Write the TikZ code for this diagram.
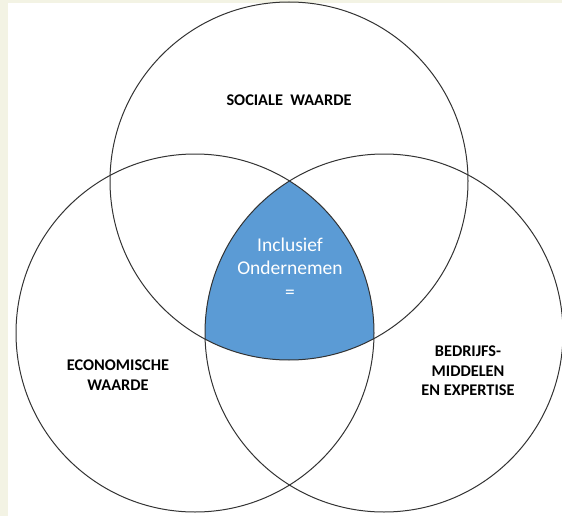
\documentclass[tikz,border=0pt]{standalone}
\usepackage{fontspec}
\setmainfont{Carlito}
\definecolor{bgbeige}{HTML}{F3F3E4}
\definecolor{venblue}{HTML}{5B9BD5}
\begin{document}
\begin{tikzpicture}[x=1pt,y=-1pt,
  ring/.style={circle, draw=black!80, line width=1pt, minimum size=358pt, inner sep=0pt},
  lab/.style={font=\fontsize{16.3}{19.5}\selectfont\bfseries, align=center, text=black},
  mid/.style={font=\fontsize{19.5}{23.5}\selectfont, align=center, text=white}]
\fill[bgbeige] (0,0) rectangle (562,516);
\fill[white] (8,3) rectangle (562,516);
\useasboundingbox (0,0) rectangle (562,516);
\begin{scope}
  \clip (289,181) circle (179pt);
  \clip (195,333) circle (179pt);
  \fill[venblue] (384,333) circle (179pt);
\end{scope}
\node[ring] (top) at (289,181) {};
\node[ring] (left) at (195,333) {};
\node[ring] (right) at (384,333) {};
\node[lab] (soc) at (289,100) {SOCIALE\ \ WAARDE};
\node[lab] (eco) at (118,375) {ECONOMISCHE\\WAARDE};
\node[lab] (bed) at (468,371) {BEDRIJFS-\\MIDDELEN\\EN EXPERTISE};
\node[mid] (inc) at (290,268) {Inclusief\\Ondernemen\\=};
\end{tikzpicture}
\end{document}
